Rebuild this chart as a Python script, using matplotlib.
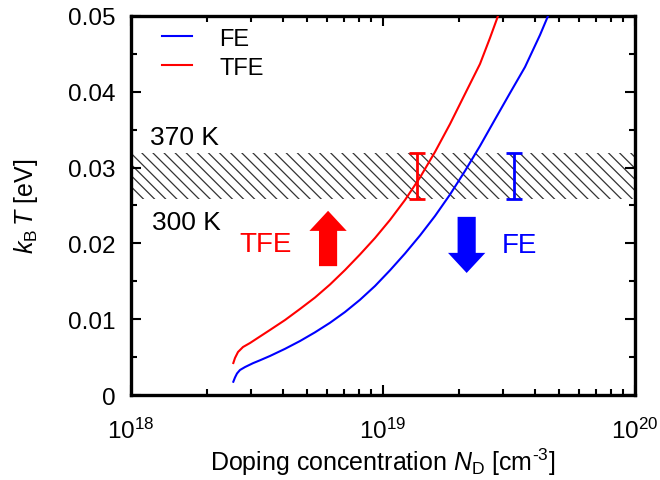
import matplotlib
matplotlib.use("Agg")
import matplotlib.pyplot as plt
from matplotlib.patches import FancyArrow
from matplotlib.ticker import FixedLocator, FuncFormatter, LogLocator, NullFormatter

plt.rcParams['font.family'] = ['Liberation Sans', 'DejaVu Sans']
plt.rcParams['mathtext.fontset'] = 'custom'
plt.rcParams['mathtext.rm'] = 'Liberation Sans'
plt.rcParams['mathtext.it'] = 'Liberation Sans:italic'
plt.rcParams['mathtext.bf'] = 'Liberation Sans:bold'
plt.rcParams['hatch.color'] = '#333333'
plt.rcParams['hatch.linewidth'] = 0.9

# Thermionic-field emission (TFE) boundary: doping [cm^-3] vs k_B T [eV]
tfe_nd = [2.547e18, 2.586e18, 2.658e18, 2.782e18, 2.967e18, 3.250e18,
          3.561e18, 4.084e18, 4.684e18, 5.373e18, 6.163e18, 7.068e18,
          8.104e18, 9.296e18, 1.066e19, 1.223e19, 1.402e19, 1.608e19,
          1.845e19, 2.115e19, 2.426e19, 2.658e19, 2.860e19]
tfe_kt = [0.00422, 0.00488, 0.00567, 0.00633, 0.00686, 0.00772,
          0.00858, 0.00989, 0.01135, 0.01286, 0.01458, 0.01649,
          0.01854, 0.02071, 0.02309, 0.02573, 0.02869, 0.03206,
          0.03575, 0.03971, 0.04367, 0.04710, 0.05000]

# Field emission (FE) boundary
fe_nd = [2.547e18, 2.586e18, 2.634e18, 2.707e18, 2.835e18, 3.049e18,
         3.250e18, 3.561e18, 4.084e18, 4.684e18, 5.373e18, 6.163e18,
         7.068e18, 8.104e18, 9.296e18, 1.066e19, 1.223e19, 1.402e19,
         1.608e19, 1.845e19, 2.115e19, 2.426e19, 2.782e19, 3.192e19,
         3.661e19, 4.198e19, 4.517e19]
fe_kt = [0.00175, 0.00231, 0.00284, 0.00330, 0.00369, 0.00420,
         0.00458, 0.00515, 0.00609, 0.00712, 0.00827, 0.00953,
         0.01095, 0.01256, 0.01438, 0.01645, 0.01867, 0.02104,
         0.02361, 0.02645, 0.02955, 0.03285, 0.03635, 0.03984,
         0.04327, 0.04749, 0.05000]

# Temperature window 300 K - 370 K expressed as k_B T [eV]
band_labels = ['300 K', '370 K']
band_kt = [0.02585, 0.03188]

# Vertical markers spanning the temperature window on each curve
marker_nd = {'TFE': 1.37e19, 'FE': 3.32e19}

y_ticks = [0, 0.01, 0.02, 0.03, 0.04, 0.05]
y_minor = [0.005, 0.015, 0.025, 0.035, 0.045]

RED = '#ff0000'
BLUE = '#0000ff'

fig = plt.figure(figsize=(6.6, 4.81), dpi=100)
ax = fig.add_axes([0.1985, 0.1767, 0.7636, 0.788])

ax.set_xscale('log')
ax.set_xlim(1e18, 1e20)
ax.set_ylim(0, 0.05)

# hatched temperature band
ax.axhspan(band_kt[0], band_kt[1], facecolor='none', edgecolor='#333333',
           hatch='\\\\\\', linewidth=0)

ax.plot(fe_nd, fe_kt, color=BLUE, lw=1.5, label='FE', zorder=3)
ax.plot(tfe_nd, tfe_kt, color=RED, lw=1.5, label='TFE', zorder=3)

for key, col in (('TFE', RED), ('FE', BLUE)):
    x = marker_nd[key]
    ax.errorbar([x], [(band_kt[0] + band_kt[1]) / 2],
                yerr=[[(band_kt[1] - band_kt[0]) / 2]],
                fmt='none', ecolor=col, elinewidth=2, capsize=5.5,
                capthick=2, zorder=4)

ax.text(0.038, 0.681, band_labels[1], transform=ax.transAxes,
        fontsize=19, va='center', ha='left')
ax.text(0.042, 0.456, band_labels[0], transform=ax.transAxes,
        fontsize=19, va='center', ha='left')

ax.text(0.216, 0.398, 'TFE', transform=ax.transAxes, color=RED,
        fontsize=20, va='center', ha='left')
ax.text(0.736, 0.396, 'FE', transform=ax.transAxes, color=BLUE,
        fontsize=20, va='center', ha='left')

# direction arrows
ax.add_patch(FancyArrow(0.391, 0.340, 0, 0.146, width=0.036,
                        head_width=0.074, head_length=0.053,
                        length_includes_head=True, color=RED,
                        transform=ax.transAxes, zorder=5, lw=0))
ax.add_patch(FancyArrow(0.666, 0.470, 0, -0.148, width=0.036,
                        head_width=0.074, head_length=0.053,
                        length_includes_head=True, color=BLUE,
                        transform=ax.transAxes, zorder=5, lw=0))

# ticks
ax.yaxis.set_major_locator(FixedLocator(y_ticks))
ax.yaxis.set_minor_locator(FixedLocator(y_minor))
ax.yaxis.set_major_formatter(FuncFormatter(lambda v, p: '%g' % v))
ax.xaxis.set_major_locator(LogLocator(base=10, numticks=10))
ax.xaxis.set_minor_locator(LogLocator(base=10, subs=range(2, 10), numticks=20))
ax.xaxis.set_minor_formatter(NullFormatter())

ax.tick_params(which='both', direction='in', top=True, right=True,
               width=1.5, labelsize=17.5)
ax.tick_params(which='major', length=7)
ax.tick_params(which='minor', length=4)
ax.tick_params(axis='x', which='major', pad=16)
ax.tick_params(axis='y', which='major', pad=11)

for s in ax.spines.values():
    s.set_linewidth(2.4)

ax.set_xlabel(r'Doping concentration $\mathit{N}_\mathrm{D}$ [cm$^{\text{-3}}$]',
              fontsize=18, labelpad=2)
ax.set_ylabel(r'$\mathit{k}_\mathrm{B}\,\mathit{T}$ [eV]', fontsize=18,
              labelpad=20)

leg = ax.legend(loc='upper left', bbox_to_anchor=(0.028, 1.013),
                frameon=False, fontsize=17,
                handlelength=1.3, handletextpad=1.15, labelspacing=0.3,
                borderaxespad=0.3, borderpad=0.4)

fig.savefig('out.png', dpi=100)
